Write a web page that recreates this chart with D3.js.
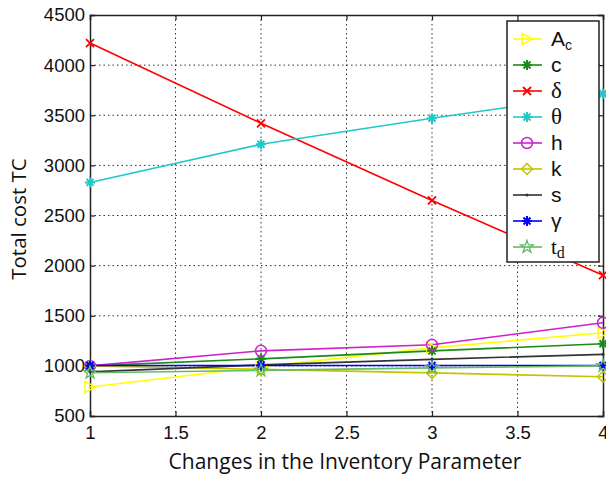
<!DOCTYPE html>
<html>
<head>
<meta charset="utf-8">
<script src="https://cdn.jsdelivr.net/npm/d3@7"></script>
<style>
  body { margin: 0; background: #fff; }
  svg { display: block; }
</style>
</head>
<body>
<svg id="chart" width="606" height="477"></svg>
<script>
// данные
const xValues = [1, 2, 3, 4];
const xTicks = [1, 1.5, 2, 2.5, 3, 3.5, 4];
const yTicks = [500, 1000, 1500, 2000, 2500, 3000, 3500, 4000, 4500];

const seriesNames = ['Ac', 'c', 'δ', 'θ', 'h', 'k', 's', 'γ', 'td'];
const valAc = [790, 990, 1180, 1330];
const valC = [1000, 1070, 1150, 1220];
const valDelta = [4220, 3420, 2650, 1905];
const valTheta = [2830, 3210, 3470, 3715];
const valH = [1000, 1150, 1210, 1430];
const valK = [1000, 965, 930, 892];
const valS = [940, 1010, 1065, 1115];
const valGamma = [1003, 1003, 1003, 1003];
const valTd = [932, 955, 980, 1000];

const series = [
    {name: 'Ac', values: valAc, color: '#ffff00', marker: 'tri'},
    {name: 'c', values: valC, color: '#1a8a1a', marker: 'star'},
    {name: 'δ', values: valDelta, color: '#ff0000', marker: 'x'},
    {name: 'θ', values: valTheta, color: '#22c8c8', marker: 'star'},
    {name: 'h', values: valH, color: '#cc22cc', marker: 'circle'},
    {name: 'k', values: valK, color: '#c4c400', marker: 'diamond'},
    {name: 's', values: valS, color: '#333333', marker: 'dot'},
    {name: 'γ', values: valGamma, color: '#0000ff', marker: 'star'},
    {name: 'td', values: valTd, color: '#66bb66', marker: 'penta'}
];

const W = 606, H = 477;
const margin = {left: 90, right: 2, top: 15, bottom: 61};
const svg = d3.select('#chart');

const x = d3.scaleLinear().domain([1, 4]).range([margin.left, W - margin.right - 1]);
const y = d3.scaleLinear().domain([500, 4500]).range([H - margin.bottom, margin.top]);

const tickFont = '"Liberation Sans", Arial, sans-serif';

// сетка
const grid = svg.append('g');
grid.selectAll('line.gx')
    .data(xTicks.slice(1, -1))
    .enter().append('line')
    .attr('x1', d => x(d)).attr('x2', d => x(d))
    .attr('y1', y(4500)).attr('y2', y(500))
    .attr('stroke', '#333').attr('stroke-width', 1)
    .attr('stroke-dasharray', '1.5,3');
grid.selectAll('line.gy')
    .data(yTicks.slice(1, -1))
    .enter().append('line')
    .attr('x1', x(1)).attr('x2', x(4))
    .attr('y1', d => y(d)).attr('y2', d => y(d))
    .attr('stroke', '#333').attr('stroke-width', 1)
    .attr('stroke-dasharray', '1.5,3');

// оси
const xAxis = d3.axisBottom(x).tickValues(xTicks).tickSize(-5).tickPadding(10)
    .tickFormat(d3.format('~g'));
const yAxis = d3.axisLeft(y).tickValues(yTicks).tickSize(-5).tickPadding(5)
    .tickFormat(d3.format('d'));

const gx = svg.append('g').attr('transform', `translate(0,${y(500)})`).call(xAxis);
const gy = svg.append('g').attr('transform', `translate(${x(1)},0)`).call(yAxis);
[gx, gy].forEach(g => {
    g.select('.domain').attr('stroke', '#222').attr('stroke-width', 1.5);
    g.selectAll('.tick line').attr('stroke', '#222').attr('stroke-width', 1.2);
    g.selectAll('text').attr('font-family', tickFont).attr('font-size', 18.5).attr('fill', '#111');
});

// верхняя и правая рамка
const gTop = svg.append('g').attr('transform', `translate(0,${y(4500)})`)
    .call(d3.axisTop(x).tickValues(xTicks).tickSize(-5).tickFormat(''));
const gRight = svg.append('g').attr('transform', `translate(${x(4)},0)`)
    .call(d3.axisRight(y).tickValues(yTicks).tickSize(-5).tickFormat(''));
[gTop, gRight].forEach(g => {
    g.select('.domain').attr('stroke', '#222').attr('stroke-width', 1.5);
    g.selectAll('.tick line').attr('stroke', '#222').attr('stroke-width', 1.2);
});

// маркеры
function drawMarker(g, type, color, cx, cy) {
    const s = 5;
    if (type === 'tri') {
        g.append('path')
            .attr('d', `M${cx - s},${cy - s * 1.1}L${cx + s * 1.1},${cy}L${cx - s},${cy + s * 1.1}Z`)
            .attr('fill', 'none').attr('stroke', color).attr('stroke-width', 1.5);
    } else if (type === 'star') {
        const r = 5;
        const p = [];
        p.push(`M${cx - r},${cy}L${cx + r},${cy}`);
        p.push(`M${cx},${cy - r}L${cx},${cy + r}`);
        p.push(`M${cx - r * 0.7},${cy - r * 0.7}L${cx + r * 0.7},${cy + r * 0.7}`);
        p.push(`M${cx - r * 0.7},${cy + r * 0.7}L${cx + r * 0.7},${cy - r * 0.7}`);
        g.append('path').attr('d', p.join('')).attr('stroke', color).attr('stroke-width', 2);
    } else if (type === 'x') {
        const r = 4;
        g.append('path')
            .attr('d', `M${cx - r},${cy - r}L${cx + r},${cy + r}M${cx - r},${cy + r}L${cx + r},${cy - r}`)
            .attr('stroke', color).attr('stroke-width', 1.8);
    } else if (type === 'circle') {
        g.append('circle').attr('cx', cx).attr('cy', cy).attr('r', 5.5)
            .attr('fill', 'none').attr('stroke', color).attr('stroke-width', 1.5);
    } else if (type === 'diamond') {
        g.append('path')
            .attr('d', `M${cx},${cy - 5.5}L${cx + 5.5},${cy}L${cx},${cy + 5.5}L${cx - 5.5},${cy}Z`)
            .attr('fill', 'none').attr('stroke', color).attr('stroke-width', 1.5);
    } else if (type === 'dot') {
        g.append('circle').attr('cx', cx).attr('cy', cy).attr('r', 1.5).attr('fill', color);
    } else if (type === 'penta') {
        g.append('path')
            .attr('d', d3.symbol(d3.symbolStar, 50)())
            .attr('transform', `translate(${cx},${cy})`)
            .attr('fill', 'none').attr('stroke', color).attr('stroke-width', 1.3);
    }
}

// линии серий
const line = d3.line().x((d, i) => x(xValues[i])).y(d => y(d));
const plot = svg.append('g');
series.forEach(s => {
    plot.append('path').datum(s.values)
        .attr('d', line)
        .attr('fill', 'none').attr('stroke', s.color).attr('stroke-width', 1.6);
});
series.forEach(s => {
    const g = plot.append('g');
    s.values.forEach((v, i) => drawMarker(g, s.marker, s.color, x(xValues[i]), y(v)));
});

// легенда
const leg = svg.append('g');
leg.append('rect').attr('x', 507).attr('y', 21).attr('width', 92).attr('height', 241)
    .attr('fill', '#fff').attr('stroke', '#222').attr('stroke-width', 1.5);
series.forEach((s, i) => {
    const ly = 39 + i * 26;
    leg.append('line').attr('x1', 513).attr('x2', 542).attr('y1', ly).attr('y2', ly)
        .attr('stroke', s.color).attr('stroke-width', 1.6);
    drawMarker(leg, s.marker, s.color, 527, ly);
    const t = leg.append('text').attr('x', 551).attr('y', ly + 7)
        .attr('font-family', tickFont).attr('font-size', 21).attr('fill', '#111');
    if (s.name === 'Ac') {
        t.append('tspan').text('A');
        t.append('tspan').attr('font-size', 14).attr('dy', 4).text('c');
    } else if (s.name === 'td') {
        t.append('tspan').attr('font-family', '"Liberation Serif", serif').text('t');
        t.append('tspan').attr('font-family', '"Liberation Serif", serif').attr('font-size', 16).attr('dy', 4).text('d');
    } else if (s.name === 'δ' || s.name === 'θ') {
        t.attr('font-family', '"Liberation Serif", serif').attr('font-size', 23).text(s.name);
    } else {
        t.text(s.name);
    }
});

// подписи осей
const labelFont = '"Open Sans", Lato, sans-serif';
svg.append('text').attr('x', 345).attr('y', 469).attr('text-anchor', 'middle')
    .attr('font-family', labelFont).attr('font-size', 21).attr('fill', '#111')
    .text('Changes in the Inventory Parameter');
svg.append('text').attr('transform', 'translate(26,219) rotate(-90)').attr('text-anchor', 'middle')
    .attr('font-family', labelFont).attr('font-size', 20.5).attr('fill', '#111')
    .text('Total cost TC');
</script>
</body>
</html>
